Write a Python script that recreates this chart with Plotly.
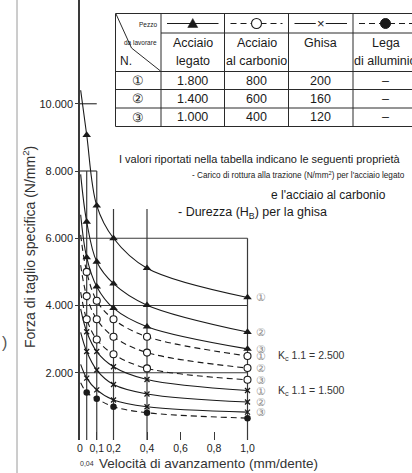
import plotly.graph_objects as go

# ---------------- data ----------------
feed = [0.04, 0.1, 0.2, 0.4, 1.0]          # mm/dente
feed_start = 0.004                          # where curves meet the y axis

legato_1 = [9070, 6970, 6000, 5110, 4240]
legato_2 = [6490, 5300, 4650, 4010, 3210]
legato_3 = [5430, 4560, 3920, 3370, 2710]
carbonio_1 = [5000, 4140, 3590, 3070, 2500]
carbonio_2 = [4280, 3590, 3070, 2600, 2140]
carbonio_3 = [3590, 2990, 2550, 2130, 1790]
ghisa_1 = [3220, 2630, 2180, 1800, 1470]
ghisa_2 = [2630, 2080, 1650, 1370, 1130]
ghisa_3 = [1840, 1490, 1190, 990, 830]
alluminio = [1410, 1230, 990, 810, 650]

legato_start = [10400, 7900, 6700]
carbonio_start = [6100, 5200, 4400]
ghisa_start = [3900, 3200, 2250]
alluminio_start = [1700]

y_ticks = [2000, 4000, 6000, 8000, 10000]
y_ticktext = ["2.000", "4.000", "6.000", "8.000", "10.000"]
x_ticks = [0, 0.1, 0.2, 0.4, 0.6, 0.8, 1.0]
x_ticktext = ["0", "0,1", "0,2", "0,4", "0,6", "0,8", "1,0"]

h_lines = [10000, 8000, 6000, 4000, 2000]
h_lines_end = [0.1, 0.1, 1.0, 1.0, 1.0]
v_lines = [0.04, 0.1, 0.2, 0.4, 1.0]
v_lines_top = [8000, 8000, 6870, 6870, 6000]

circled = ["①", "②", "③"]
kc_carbonio = "2.500"
kc_ghisa = "1.500"

table_materials_1 = ["Acciaio", "Acciaio", "Ghisa", "Lega"]
table_materials_2 = ["legato", "al carbonio", "", "di alluminio"]
val_legato = ["1.800", "1.400", "1.000"]
val_carbonio = ["800", "600", "400"]
val_ghisa = ["200", "160", "120"]
val_alluminio = ["–", "–", "–"]

# ---------------- layout geometry ----------------
W, H = 412, 473
ML, MR, MT, MB = 80, 0, 0, 33
PW, PH = W - ML - MR, H - MT - MB
X_PX = 167.5             # px per unit of feed
Y_PX = 0.033625          # px per N/mm2


def fx(px):
    return (px - ML) / PW


def fy(py):
    return 1 - (py - MT) / PH


FONT = "Liberation Sans, Arial, Helvetica, sans-serif"
INK = "#1a1a1a"
GRID = "#3a3a3a"

fig = go.Figure()

groups = [
    (legato_1, legato_start[0], "solid", "triangle-up"),
    (legato_2, legato_start[1], "solid", "triangle-up"),
    (legato_3, legato_start[2], "solid", "triangle-up"),
    (carbonio_1, carbonio_start[0], "dash", "circle-o"),
    (carbonio_2, carbonio_start[1], "dash", "circle-o"),
    (carbonio_3, carbonio_start[2], "dash", "circle-o"),
    (ghisa_1, ghisa_start[0], "solid", "x"),
    (ghisa_2, ghisa_start[1], "solid", "x"),
    (ghisa_3, ghisa_start[2], "solid", "x"),
    (alluminio, alluminio_start[0], "dash", "dot"),
]

for vals, v0, dash, _ in groups:
    fig.add_trace(go.Scatter(
        x=[feed_start] + feed, y=[v0] + vals, mode="lines",
        line=dict(color=INK, width=1.1, shape="spline",
                  dash="6px,4px" if dash == "dash" else "solid"),
        hoverinfo="skip", showlegend=False))

for vals, v0, dash, kind in groups:
    if kind == "triangle-up":
        mk = dict(symbol="triangle-up", size=7.5, color=INK)
    elif kind == "circle-o":
        mk = dict(symbol="circle", size=7, color="white", line=dict(color=INK, width=1.1))
    elif kind == "x":
        mk = dict(symbol="x-thin", size=5, color=INK, line=dict(color=INK, width=1.3))
    else:
        mk = dict(symbol="circle", size=6.5, color=INK)
    fig.add_trace(go.Scatter(x=feed, y=vals, mode="markers", marker=mk,
                             hoverinfo="skip", showlegend=False))

shapes = []
for yv, xe in zip(h_lines, h_lines_end):
    shapes.append(dict(type="line", xref="x", yref="y", x0=0, x1=xe, y0=yv, y1=yv,
                       line=dict(color=GRID, width=1.2), layer="below"))
for xv, yt in zip(v_lines, v_lines_top):
    shapes.append(dict(type="line", xref="x", yref="y", x0=xv, x1=xv, y0=0, y1=yt,
                       line=dict(color=GRID, width=1.2), layer="below"))

# left page border line
shapes.append(dict(type="line", xref="paper", yref="paper", x0=fx(17), x1=fx(17),
                   y0=fy(0), y1=fy(473), line=dict(color="#9a9a9a", width=1)))

# ---------------- table ----------------
col_x = [115.5, 161, 224.5, 288.5, 353, 418]
row_y = [13.5, 33, 71.5, 89.5, 108, 126.5]
TL_C = "#2a2a2a"


def tline(x0, y0, x1, y1, w=1):
    shapes.append(dict(type="line", xref="paper", yref="paper", x0=fx(x0), x1=fx(x1),
                       y0=fy(y0), y1=fy(y1), line=dict(color=TL_C, width=w)))


tline(col_x[0], row_y[0], col_x[-1], row_y[0])
tline(col_x[1], row_y[1], col_x[-1], row_y[1])
for ry in row_y[2:]:
    tline(col_x[0], ry, col_x[-1], ry)
for cx in col_x[:-1]:
    tline(cx, row_y[0], cx, row_y[-1])
# diagonal header split
tline(116, 14, 131.5, 48)
tline(131.5, 48, 160.5, 71)

annotations = []


def txt(text, px, py, size, anchor="center", color=INK, family=FONT, **kw):
    annotations.append(dict(text=text, xref="paper", yref="paper", x=fx(px), y=fy(py),
                            xanchor=anchor, yanchor="middle", showarrow=False,
                            font=dict(size=size, color=color, family=family), **kw))


txt("Pezzo", 159, 24, 6.5, anchor="right")
txt("da lavorare", 159, 42, 6.5, anchor="right")
txt("N.", 118, 61, 12, anchor="left")

# legend symbols in header
sym_y = 23.5
for i in range(4):
    x0, x1 = col_x[i + 1] + 6, col_x[i + 2] - 6
    xc = (x0 + x1) / 2
    dashed = i in (1, 3)
    shapes.append(dict(type="line", xref="paper", yref="paper", x0=fx(x0), x1=fx(x1),
                       y0=fy(sym_y), y1=fy(sym_y),
                       line=dict(color=INK, width=1.1, dash="6px,4px" if dashed else "solid")))
    if i == 0:
        shapes.append(dict(type="path", xref="paper", yref="paper",
                           path=f"M {fx(xc-5)} {fy(sym_y+4)} L {fx(xc+5)} {fy(sym_y+4)} L {fx(xc)} {fy(sym_y-5)} Z",
                           fillcolor=INK, line=dict(color=INK, width=0.5)))
    elif i == 1:
        shapes.append(dict(type="circle", xref="paper", yref="paper",
                           x0=fx(xc - 5), x1=fx(xc + 5), y0=fy(sym_y - 5), y1=fy(sym_y + 5),
                           fillcolor="white", line=dict(color=INK, width=1.1)))
    elif i == 2:
        shapes.append(dict(type="rect", xref="paper", yref="paper",
                           x0=fx(xc - 5), x1=fx(xc + 5), y0=fy(sym_y - 5), y1=fy(sym_y + 5),
                           fillcolor="white", line=dict(width=0)))
        txt("×", xc, sym_y, 13)
    else:
        shapes.append(dict(type="circle", xref="paper", yref="paper",
                           x0=fx(xc - 5), x1=fx(xc + 5), y0=fy(sym_y - 5), y1=fy(sym_y + 5),
                           fillcolor=INK, line=dict(color=INK, width=1)))

for i in range(4):
    xc = (col_x[i + 1] + col_x[i + 2]) / 2
    txt(table_materials_1[i], xc, 43, 12.5)
    if table_materials_2[i]:
        txt(table_materials_2[i], xc, 61, 12.5)

row_centers = [(row_y[k] + row_y[k + 1]) / 2 for k in range(2, 5)]
for k, yc in enumerate(row_centers):
    txt(circled[k], (col_x[0] + col_x[1]) / 2, yc, 13)
    for j, col in enumerate([val_legato, val_carbonio, val_ghisa, val_alluminio]):
        txt(col[k], (col_x[j + 1] + col_x[j + 2]) / 2, yc, 12.5)

# notes
txt("I valori riportati nella tabella indicano le seguenti proprietà", 117, 159, 11,
    anchor="left")
txt("- Carico di rottura alla trazione (N/mm<sup>2</sup>) per l'acciaio legato", 190, 175, 8.2,
    anchor="left")
txt("e l'acciaio al carbonio", 269, 195, 12, anchor="left")
txt("- Durezza (H<sub>B</sub>) per la ghisa", 176, 213, 12.5, anchor="left")

# right-hand curve labels
ends = [legato_1, legato_2, legato_3, carbonio_1, carbonio_2, carbonio_3,
        ghisa_1, ghisa_2, ghisa_3]
for k, vals in enumerate(ends):
    annotations.append(dict(text=circled[k % 3], xref="x", yref="y", x=feed[-1], y=vals[-1],
                            xshift=13, xanchor="center", yanchor="middle", showarrow=False,
                            font=dict(size=10.5, color="#8a8a8a", family=FONT)))
for vals, kc in [(carbonio_1, kc_carbonio), (ghisa_1, kc_ghisa)]:
    annotations.append(dict(text=f"K<sub>c</sub> 1.1 = {kc}", xref="x", yref="y",
                            x=feed[-1], y=vals[-1], xshift=28, xanchor="left", yanchor="middle",
                            showarrow=False, font=dict(size=10.5, color="#333", family=FONT)))

# axis titles
txt("Forza di taglio specifica (N/mm<sup>2</sup>)", 29, 247, 14, color="#333", textangle=-90)
txt("Velocità di avanzamento (mm/dente)", 97, 463, 13.5, anchor="left", color="#333")
annotations.append(dict(text="0,04", xref="x", yref="paper", x=feed[0], y=fy(464),
                        xanchor="center", yanchor="middle", showarrow=False,
                        font=dict(size=7, color="#333", family=FONT)))
txt(")", 4, 342, 16, color="#555")

fig.update_layout(
    width=W, height=H,
    margin=dict(l=ML, r=MR, t=MT, b=MB, pad=0, autoexpand=False),
    paper_bgcolor="white", plot_bgcolor="white",
    shapes=shapes, annotations=annotations,
    showlegend=False,
    xaxis=dict(range=[0, PW / X_PX], tickvals=x_ticks, ticktext=x_ticktext,
               tickangle=0, automargin=False,
               ticks="inside", ticklen=8, tickcolor=GRID, showline=False,
               showgrid=False, zeroline=False, fixedrange=True,
               tickfont=dict(size=10.5, color="#222", family=FONT)),
    yaxis=dict(range=[0, PH / Y_PX], tickvals=y_ticks, ticktext=y_ticktext,
               automargin=False,
               ticks="outside", ticklen=3, tickcolor=GRID, showline=True,
               linecolor=GRID, linewidth=1.5, showgrid=False, zeroline=False,
               fixedrange=True, tickfont=dict(size=11, color="#222", family=FONT)),
)

fig.write_html("out.html", config={"displayModeBar": False},
               post_script="document.body.style.margin='0';document.body.style.overflow='hidden';")
